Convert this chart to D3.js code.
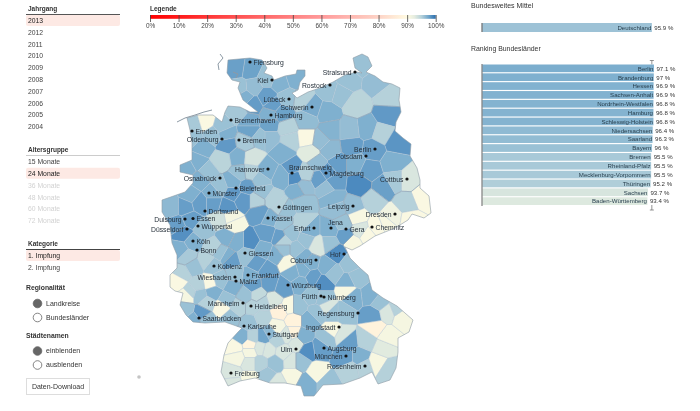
<!DOCTYPE html>
<html><head><meta charset="utf-8">
<script src="https://d3js.org/d3.v7.min.js"></script>
<style>
html,body{margin:0;padding:0;background:#fff}
svg{display:block;font-family:"Liberation Sans",Arial,sans-serif;filter:blur(.3px)}
text{fill:#333}
</style></head><body><svg id="c" width="700" height="411"></svg>
<script>
// ---------- values ----------
const jahrgang=["2013","2012","2011","2010","2009","2008","2007","2006","2005","2004"];
const alter=["15 Monate","24 Monate","36 Monate","48 Monate","60 Monate","72 Monate"];
const alterInaktiv=["36 Monate","48 Monate","60 Monate","72 Monate"];
const kategorie=["1. Impfung","2. Impfung"];
const legendTicks=[0,10,20,30,40,50,60,70,80,90,100];
const laender=["Berlin","Brandenburg","Hessen","Sachsen-Anhalt","Nordrhein-Westfalen","Hamburg","Schleswig-Holstein","Niedersachsen","Saarland","Bayern","Bremen","Rheinland-Pfalz","Mecklenburg-Vorpommern","Thüringen","Sachsen","Baden-Württemberg"];
const laenderWerte=[97.1,97,96.9,96.9,96.8,96.8,96.8,96.4,96.3,96,95.5,95.5,95.5,95.2,93.7,93.4];
const bundWert=95.9;

// map geography in map-grid units [east, north], district = [east, north, percent]
const outline=[[88,340],[110,342],[122,340],[127,332],[124,327],[132,324],[134,320],[145,324],[156,326],[157,330],[165,330],[165,324],[160,318],[158,310],[152,307],[157,302],[168,308],[180,312],[193,318],[205,325],[217,328],[222,327],[215,332],[213,342],[222,346],[228,343],[232,334],[226,328],[235,324],[243,318],[252,316],[260,312],[259,300],[261,288],[256,278],[255,269],[263,262],[271,256],[270,244],[277,232],[280,220],[280,212],[289,204],[291,187],[284,182],[272,186],[268,180],[255,172],[235,164],[220,154],[212,150],[205,153],[210,142],[220,132],[228,125],[232,110],[243,102],[257,94],[273,80],[269,68],[258,62],[258,48],[256,32],[250,20],[238,16],[232,28],[220,22],[203,16],[183,15],[174,4],[164,4],[161,14],[145,17],[130,17],[115,22],[100,19],[88,14],[81,28],[84,45],[88,57],[98,68],[102,72],[85,78],[65,77],[53,78],[46,85],[40,95],[43,107],[35,109],[30,113],[30,125],[37,132],[37,145],[32,157],[30,175],[22,188],[22,200],[45,208],[53,217],[53,225],[40,228],[40,235],[52,240],[52,257],[50,270],[47,282],[58,285],[73,285],[82,278],[85,288],[88,294],[100,293],[110,288],[118,288],[103,300],[98,312],[100,318],[92,320],[87,327]];
const islands=[[[80,346],[83,342],[78,336],[79,330]],[[37,278],[45,282],[55,285],[64,288],[72,290]],[[93,328],[98,326],[96,322]]];

const shDistricts=[[97,332,97.7],[110,330,97.6],[113,313,96.2],[127,322,96],[140,317,96.9],[155,322,97],[100,312,96],[105,303,97],[127,303,97.8],[113,295,97.9],[133,295,97.8],[147,302,96],[142,287,97.6]];
const hhDistricts=[[130,285,97]];
const mvDistricts=[[162,300,95],[172,292,97.2],[187,287,97],[190,310,96],[200,307,96],[217,295,94.8],[207,320,96],[222,337,96],[237,317,96.2],[248,303,95],[167,280,96.3]];
const bbDistricts=[[190,270,96.8],[210,270,96.2],[227,272,97],[247,285,98],[242,267,95],[257,258,98.2],[233,250,97.8],[212,253,97.8],[215,237,97],[230,230,97.8],[253,237,97],[243,213,97.7],[268,220,93.6],[255,220,95.5]];
const stDistricts=[[180,260,96.2],[198,237,97.8],[190,250,96.5],[177,237,96.2],[187,227,98],[180,222,97.8],[163,213,96.2],[193,218,97.8],[220,215,98.7],[187,213,96.2],[193,202,96.8],[197,190,96.2]];
const snDistricts=[[282,203,90.5],[267,197,95],[252,183,91.5],[270,180,90.5],[233,200,95],[213,193,96.2],[217,183,90.8],[237,173,90.5],[227,165,90.5],[247,177,90.8],[220,170,93.6],[213,157,90.8]];
const niDistricts=[[55,275,95.5],[53,263,96],[65,278,90.5],[82,273,96],[85,266,97],[98,288,95.6],[110,278,97.2],[110,270,97.6],[130,275,97.6],[147,272,95],[150,260,95],[167,262,90.5],[170,247,93],[130,262,96.2],[143,248,97],[120,262,96],[87,255,98],[73,265,96],[63,253,97],[57,238,97],[82,240,94.8],[98,243,97],[112,242,93.8],[127,230,97],[153,232,98],[155,223,98.5],[165,227,95],[142,223,97],[120,220,96],[110,228,95],[122,208,96],[133,200,95],[140,193,95],[158,210,97],[67,228,96],[48,233,97]];
const hbDistricts=[[105,258,95.5]];
const nwDistricts=[[60,220,97],[50,205,97],[32,193,96.5],[45,193,97.8],[73,207,97],[80,213,96],[93,207,98],[100,227,96],[93,218,97],[107,213,97.8],[117,200,95],[103,200,98],[87,193,98.2],[73,197,97.8],[60,197,97.8],[50,180,97.8],[90,182,91],[80,180,94],[63,170,96],[93,175,90.8],[43,167,98.4],[38,175,97.8],[87,163,97],[53,158,97],[73,152,95],[47,143,95.5],[40,150,97]];
const heDistricts=[[130,182,97],[120,187,97.8],[127,167,97.8],[143,177,96],[140,163,97.8],[110,158,98.5],[97,158,97],[107,145,96],[123,150,97],[137,145,97],[117,137,97.8],[127,130,97.8],[90,140,97.8],[110,123,97],[95,125,96],[113,115,97.8],[118,105,94.5],[105,105,96]];
const rpDistricts=[[73,135,96],[87,143,97],[67,140,95],[80,147,96],[43,127,95],[53,133,96],[70,117,90.5],[38,118,90.5],[50,108,95],[58,115,95],[60,105,96],[73,108,97],[80,120,96],[93,113,97],[87,100,96],[67,97,95],[67,80,96],[90,83,96],[98,93,95],[82,92,90.5],[47,105,91]];
const slDistricts=[[62,87,98],[53,80,97],[45,90,96]];
const bwDistricts=[[133,100,93.6],[123,97,95],[113,93,95],[140,88,87.5],[150,93,90.5],[153,80,88],[153,67,88],[110,77,96],[122,82,95],[137,73,91],[130,67,96.5],[113,63,95],[102,63,97],[95,52,90.5],[110,55,88.5],[123,63,97.5],[137,60,95],[147,65,93.6],[157,57,93.6],[143,48,93.6],[128,50,93.6],[120,52,93.6],[110,48,91],[110,37,93.6],[92,27,93.6],[97,43,91],[93,17,93.6],[110,22,90.8],[127,25,95.8],[120,37,95],[135,37,96],[152,38,93.6],[152,25,90.8],[137,17,93.6]];
const byDistricts=[[167,17,97],[160,38,96],[177,27,90.8],[187,17,96],[168,50,98.5],[163,63,97],[180,52,97.8],[187,62,96],[193,70,90.8],[202,65,93.6],[208,58,97.8],[205,43,97.8],[220,43,97],[210,30,95],[225,33,95],[237,37,90.8],[248,30,95],[243,53,93],[247,63,91],[227,60,95],[235,72,88],[233,85,97.8],[247,88,93.6],[263,83,91],[257,92,95],[240,97,96],[230,105,97],[213,103,97],[203,87,96],[193,87,96],[187,93,93.6],[177,87,96],[170,80,97],[157,93,96],[173,105,96],[183,102,96],[207,110,90.8],[207,117,97],[217,122,96],[193,127,96],[197,147,98.6],[210,137,96],[187,133,97],[173,123,97.8],[183,117,98.5],[160,117,97],[143,113,97.8],[130,117,97.8],[153,127,97],[163,130,97],[147,138,90.8],[170,137,97],[143,150,96]];
const thDistricts=[[145,190,96],[163,197,96],[170,170,97],[150,167,96],[143,160,95],[163,177,95],[167,160,96],[190,170,97],[177,155,93.6],[190,157,96],[205,165,97.8],[203,177,96],[157,150,96],[163,143,97]];
const allStates=[shDistricts,hhDistricts,mvDistricts,bbDistricts,stDistricts,snDistricts,niDistricts,hbDistricts,nwDistricts,heDistricts,rpDistricts,slDistricts,bwDistricts,byDistricts,thDistricts];

// cities [name, east, north]
const citiesRight=[["Flensburg",110,338],["Hamburg",131,285],["Bremerhaven",91,280],["Emden",52,269],["Bremen",99,260],["Magdeburg",186,227],["Bielefeld",96,212],["Münster",69,207],["Dortmund",65,189],["Essen",53,181.5],["Wuppertal",58,174],["Köln",53,159],["Bonn",57,150],["Göttingen",139,193],["Kassel",128,182],["Gera",206,171],["Chemnitz",232,173],["Giessen",105,147],["Koblenz",74,134],["Frankfurt",108,125],["Mainz",96,119],["Würzburg",148,115],["Nürnberg",184,103],["Heidelberg",111,94],["Saarbrücken",59,82],["Karlsruhe",104,74],["Stuttgart",129,66],["Augsburg",184,52],["Freiburg",91,27]];
const citiesLeft=[["Kiel",132,320],["Rostock",190,315],["Stralsund",215,328],["Lübeck",149,301],["Schwerin",172,293],["Oldenburg",82,261],["Hannover",128,231],["Berlin",235,251],["Potsdam",226,244],["Cottbus",267,221],["Osnabrück",80,222],["Duisburg",45,181],["Düsseldorf",47,171],["Leipzig",213,194],["Dresden",255,186],["Erfurt",174,172],["Coburg",176,140],["Hof",204,146],["Wiesbaden",95,123],["Fürth",181,104],["Mannheim",103,97],["Regensburg",218,87],["Ingolstadt",199,73],["Ulm",156,51],["München",206,44],["Rosenheim",225,34]];
const citiesAbove=[["Braunschweig",152,227],["Jena",191,172]];

// ---------- scales ----------
const svg=d3.select("#c");
const W=320,H=400;
const mapX=d3.scaleLinear().domain([0,W]).range([140,460]);
const mapY=d3.scaleLinear().domain([0,H]).range([400,0]);
const color=d3.scaleLinear()
 .domain([0,30,60,80,90,93.5,95.5,97,98.6,100])
 .range(["#ff0000","#ff5050","#ff9a9a","#fdd3c6","#fffbe2","#dce8df","#a8c9d8","#7fb0cf","#4f8cc0","#2a6fb0"]);
const pct=d=>String(d).replace(/\.0$/,"")+" %";
const defs=svg.append("defs");

// ---------- left controls ----------
const left=svg.append("g");
function listBlock(title,items,titleY,lineY,lineCol,rowY,active,faded){
  left.append("text").attr("x",28).attr("y",titleY).attr("font-size",6.5).attr("font-weight","bold").attr("fill","#444").text(title);
  left.append("line").attr("x1",26).attr("x2",120).attr("y1",lineY).attr("y2",lineY).attr("stroke",lineCol).attr("stroke-width",1.2);
  const y=d3.scalePoint().domain(items).range(rowY);
  items.forEach(d=>{
    if(d===active) left.append("rect").attr("x",26).attr("y",y(d)-5.5).attr("width",94).attr("height",11).attr("rx",2).attr("fill","#fde9e4");
    left.append("text").attr("x",28).attr("y",y(d)+2.6).attr("font-size",6.8).style("fill",faded.includes(d)?"#d2d2d2":(d===active?"#222":"#444")).text(d);
  });
}
listBlock("Jahrgang",jahrgang,10.5,14.5,"#555",[20.5,126.5],"2013",[]);
listBlock("Altersgruppe",alter,151.5,155.5,"#ccc",[161.5,220.5],"24 Monate",alterInaktiv);
listBlock("Kategorie",kategorie,245.5,249.5,"#444",[255.5,267.5],"1. Impfung",[]);
function radioBlock(title,opts,y0){
  left.append("text").attr("x",26).attr("y",y0).attr("font-size",6.8).attr("font-weight","bold").attr("fill","#222").text(title);
  opts.forEach((o,i)=>{
    const cy=y0+13.5+i*14;
    left.append("circle").attr("cx",37.5).attr("cy",cy).attr("r",4.3).attr("fill",i===0?"#666":"#fff").attr("stroke","#666").attr("stroke-width",.8);
    left.append("text").attr("x",46).attr("y",cy+2.4).attr("font-size",7).attr("fill","#555").text(o);
  });
}
radioBlock("Regionalität",["Landkreise","Bundesländer"],290);
radioBlock("Städtenamen",["einblenden","ausblenden"],337.5);
left.append("rect").attr("x",26.5).attr("y",378.5).attr("width",63).attr("height",16).attr("fill","#fff").attr("stroke","#ddd");
left.append("text").attr("x",58).attr("y",389).attr("text-anchor","middle").attr("font-size",7).attr("fill","#666").text("Daten-Download");
left.append("circle").attr("cx",139).attr("cy",377).attr("r",1.8).attr("fill","#c4c4c4");

// ---------- legend ----------
const legX=d3.scaleLinear().domain([0,100]).range([150,435.7]);
const grad=defs.append("linearGradient").attr("id","lg");
d3.range(0,100.5,2.5).forEach(v=>grad.append("stop").attr("offset",v+"%").attr("stop-color",color(v)));
svg.append("text").attr("x",150).attr("y",10.5).attr("font-size",6.5).attr("font-weight","bold").attr("fill","#222").text("Legende");
svg.append("rect").attr("x",150).attr("y",15).attr("width",285.7).attr("height",3.8).attr("fill","url(#lg)");
const legAxis=svg.append("g").attr("transform","translate(0,15)")
 .call(d3.axisBottom(legX).tickValues(legendTicks).tickFormat(d=>d+"%").tickSize(7).tickPadding(1));
legAxis.select(".domain").remove();
legAxis.selectAll("line").attr("stroke","#444").attr("stroke-width",.8);
legAxis.selectAll("text").attr("font-size",6.4).attr("font-family","inherit").style("fill","#444");

// ---------- map ----------
const seeds=[];
allStates.forEach((arr,s)=>arr.forEach(d=>seeds.push({e:d[0],n:d[1],v:d[2],s})));
const del=d3.Delaunay.from(seeds,d=>mapX(d.e),d=>mapY(d.n));
const vor=del.voronoi([140,0,460,400]);
const line=d3.line().x(d=>mapX(d[0])).y(d=>mapY(d[1]));
const outlinePath=line(outline)+"Z";
defs.append("clipPath").attr("id","de").append("path").attr("d",outlinePath);
const map=svg.append("g");
const cells=map.append("g").attr("clip-path","url(#de)");
cells.selectAll("path").data(seeds).join("path")
 .attr("d",(d,i)=>vor.renderCell(i))
 .attr("fill",d=>color(d.v)).attr("stroke","#b4c6d4").attr("stroke-width",.4);
const border=d3.path();
seeds.forEach((d,i)=>{
  for(const j of vor.neighbors(i)){
    if(j>i&&seeds[j].s!==d.s){
      const a=vor.cellPolygon(i),b=vor.cellPolygon(j);
      const shared=a.filter(p=>b.some(q=>Math.abs(p[0]-q[0])<1e-6&&Math.abs(p[1]-q[1])<1e-6));
      if(shared.length>=2){border.moveTo(shared[0][0],shared[0][1]);border.lineTo(shared[1][0],shared[1][1]);}
    }
  }
});
cells.append("path").attr("d",border.toString()).attr("fill","none").attr("stroke","#8aa0b2").attr("stroke-width",.6);
map.append("path").attr("d",outlinePath).attr("fill","none").attr("stroke","#8d9aa5").attr("stroke-width",.6);
map.selectAll(".isl").data(islands).join("path").attr("class","isl").attr("d",line).attr("fill","none").attr("stroke","#8d9aa5").attr("stroke-width",1);

function drawCities(list,anchor,dx,dy){
  const g=map.append("g");
  g.selectAll("circle").data(list).join("circle").attr("cx",d=>mapX(d[1])).attr("cy",d=>mapY(d[2])).attr("r",1.6).attr("fill","#111");
  g.selectAll("text").data(list).join("text").attr("x",d=>mapX(d[1])+dx).attr("y",d=>mapY(d[2])+dy)
   .attr("text-anchor",anchor).attr("font-size",6.8).style("fill","#26303a").text(d=>d[0]);
}
drawCities(citiesRight,"start",3.5,2.5);
drawCities(citiesLeft,"end",-3.5,2.5);
drawCities(citiesAbove,"start",-3,-3.5);

// ---------- right bars ----------
const barX=d3.scaleLinear().domain([0,100]).range([482,659.1]);
const right=svg.append("g");
right.append("text").attr("x",471).attr("y",8).attr("font-size",7).attr("fill","#555").text("Bundesweites Mittel");
right.append("text").attr("x",471).attr("y",50.5).attr("font-size",6.9).attr("fill","#555").text("Ranking Bundesländer");
function barRow(name,val,y,h){
  right.append("rect").attr("x",barX(0)).attr("y",y).attr("width",barX(val)-barX(0)).attr("height",h).attr("fill",color(val));
  right.append("text").attr("x",barX(val)-.5).attr("y",y+h/2+2.3).attr("text-anchor","end").attr("font-size",6.1).style("fill","#29404f").text(name);
  right.append("text").attr("x",barX(val)+2.5).attr("y",y+h/2+2.3).attr("font-size",6.1).style("fill","#333").text(pct(val));
}
barRow("Deutschland",bundWert,23,9);
const rowY=d3.scaleBand().domain(laender).range([64.5,205]).paddingInner(.13).paddingOuter(0);
[[60.5,64.5],[205,210]].forEach(s=>right.append("line").attr("x1",barX(bundWert)).attr("x2",barX(bundWert)).attr("y1",s[0]).attr("y2",s[1]).attr("stroke","#666").attr("stroke-width",.7));
[60.5,210].forEach(y=>right.append("line").attr("x1",barX(bundWert)-2).attr("x2",barX(bundWert)+2).attr("y1",y).attr("y2",y).attr("stroke","#666").attr("stroke-width",.7));
laender.forEach((n,i)=>barRow(n,laenderWerte[i],rowY(n),rowY.bandwidth()));
right.append("line").attr("x1",482).attr("x2",482).attr("y1",23).attr("y2",32).attr("stroke","#777").attr("stroke-width",1.3);
right.append("line").attr("x1",482).attr("x2",482).attr("y1",64).attr("y2",206).attr("stroke","#888").attr("stroke-width",1.3);
</script></body></html>
